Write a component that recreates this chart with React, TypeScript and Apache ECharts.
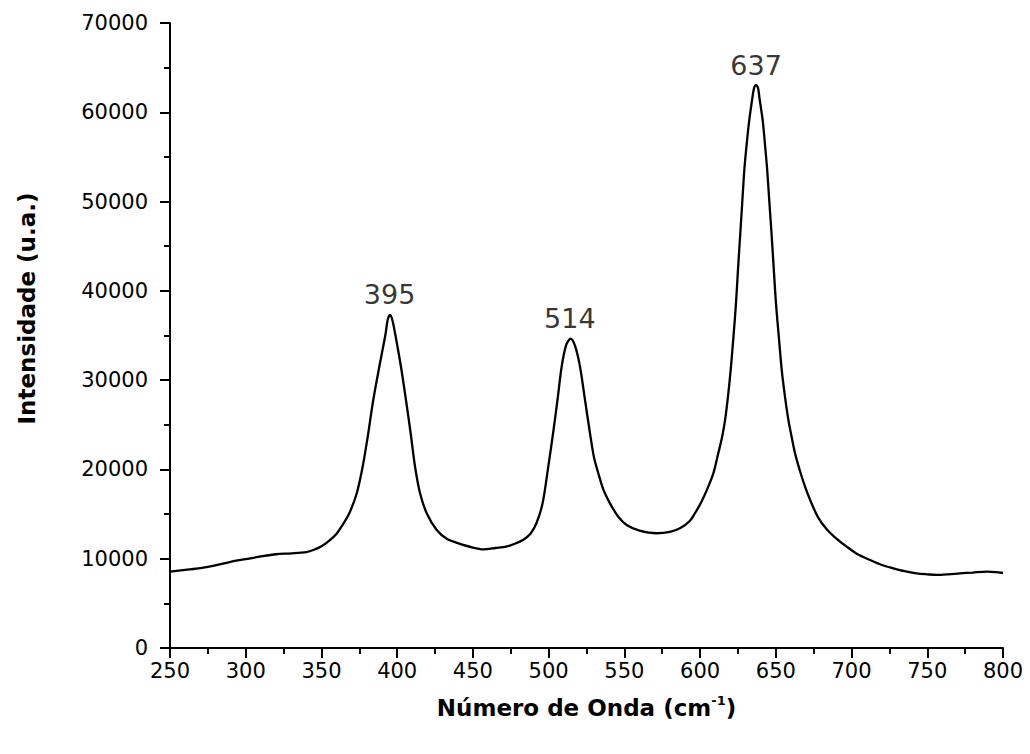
import React, { useEffect, useRef } from "react";
import * as echarts from "echarts";

const wavenumbers = [
  250, 260, 270, 280, 290, 300, 310, 320, 330, 340, 345, 350, 355, 360, 364, 368.4, 373.3, 377.2, 380.9, 384.2,
  388.2, 392.4, 393.7, 395.3, 396.8, 398.6, 402.5, 405.8, 408.9, 411.8, 415.1, 419.5, 426.1, 433, 440, 450, 457,
  465, 472, 478, 483, 488, 492, 496, 499.5, 503.3, 506, 508.6, 511.5, 514.5, 517.5, 520.7, 524, 527.3, 530,
  532.8, 536, 540.5, 546, 551.5, 560, 571.4, 580, 586.7, 593, 596.6, 601, 605.4, 609, 612, 614.5, 616.5, 618.5,
  620.2, 622, 623.7, 625, 626.4, 627.8, 629.2, 630.8, 632.5, 634.5, 635.6, 636.9, 638.3, 639.2, 641.3, 642.8,
  644.3, 645.8, 647.3, 648.7, 650.1, 652, 653.9, 656, 658.3, 660.5, 662.7, 666, 669.3, 672.6, 678, 683.6, 690,
  696.8, 704, 712.2, 720, 727.6, 735, 743, 750, 756.2, 764, 771.6, 780, 789.3, 795, 800,
];

const intensities = [
  8550, 8750, 8950, 9250, 9650, 9950, 10250, 10500, 10600, 10750, 11000, 11400, 12000, 12800, 13800, 15090,
  17330, 20300, 24050, 27780, 31500, 35250, 36740, 37300, 36740, 35250, 31500, 27780, 24050, 20300, 17330,
  15090, 13220, 12200, 11750, 11250, 11050, 11200, 11350, 11700, 12100, 12800, 14000, 16200, 20000, 24500,
  28000, 31510, 33900, 34650, 33800, 31510, 27800, 24050, 21300, 19570, 17800, 16200, 14700, 13780, 13150,
  12850, 13000, 13400, 14200, 15090, 16400, 18070, 19700, 21800, 23600, 25540, 28300, 31140, 34800, 38600,
  42300, 46070, 49800, 53540, 56500, 59140, 61600, 62680, 63050, 62680, 61600, 59140, 56500, 53540, 49800,
  46070, 42300, 38600, 34800, 31140, 28200, 25540, 23600, 21800, 19800, 18070, 16600, 14600, 13300, 12250,
  11350, 10500, 9860, 9300, 8920, 8600, 8360, 8250, 8180, 8250, 8360, 8450, 8550, 8500, 8400,
];

const peakPositions = [395, 514, 637];
const peakHeights = [37300, 34650, 63050];

const xTitle = "Número de Onda (cm";
const xTitleSup = "-1";
const yTitle = "Intensidade (u.a.)";

const FONT = "'DejaVu Sans', 'Liberation Sans', Arial, sans-serif";

export default function App() {
  const ref = useRef<HTMLDivElement>(null);

  useEffect(() => {
    if (!ref.current) return;
    const chart = echarts.init(ref.current, null, { renderer: "svg" });
    const spectrum = wavenumbers.map((x, i) => [x, intensities[i]]);
    const peaks = peakPositions.map((x, i) => [x, peakHeights[i]]);

    const axisCommon = {
      axisLine: { show: true, onZero: false, lineStyle: { color: "#000", width: 2 } },
      axisTick: { show: true, inside: false, length: 10, lineStyle: { color: "#000", width: 2 } },
      minorTick: { show: true, splitNumber: 2, length: 6, lineStyle: { color: "#000", width: 2 } },
      splitLine: { show: false },
      minorSplitLine: { show: false },
    };

    chart.setOption({
      animation: false,
      backgroundColor: "#fff",
      grid: { left: 170, right: 27, top: 23, bottom: 106 },
      xAxis: {
        type: "value",
        min: 250,
        max: 800,
        interval: 50,
        ...axisCommon,
        axisLabel: {
          color: "#000",
          fontSize: 21,
          fontFamily: FONT,
          margin: 12,
          formatter: (v: number) => String(v),
        },
        name: `{t|${xTitle}}{s|${xTitleSup}}{t|)}`,
        nameLocation: "middle",
        nameGap: 46,
        nameTextStyle: {
          rich: {
            t: { fontSize: 23, fontWeight: "bold", fontFamily: FONT, color: "#000", lineHeight: 28 },
            s: { fontSize: 13, fontWeight: "bold", fontFamily: FONT, color: "#000", lineHeight: 13, verticalAlign: "top" },
          },
        },
      },
      yAxis: {
        type: "value",
        min: 0,
        max: 70000,
        interval: 10000,
        ...axisCommon,
        axisLabel: {
          color: "#000",
          fontSize: 21,
          fontFamily: FONT,
          margin: 22,
          formatter: (v: number) => String(v),
        },
        name: yTitle,
        nameLocation: "middle",
        nameGap: 132,
        nameTextStyle: {
          fontSize: 23,
          fontWeight: "bold",
          fontFamily: FONT,
          color: "#000",
          padding: [0, 0, 0, 54],
        },
      },
      series: [
        {
          type: "line",
          data: spectrum,
          showSymbol: false,
          smooth: 0.3,
          lineStyle: { color: "#000", width: 2.3 },
          z: 3,
        },
        {
          type: "scatter",
          data: peaks,
          symbolSize: 0,
          itemStyle: { color: "transparent" },
          label: {
            show: true,
            position: "top",
            distance: 6,
            formatter: (p: any) => String(p.value[0]),
            fontSize: 27,
            lineHeight: 28,
            fontFamily: FONT,
            color: "#000",
          },
          z: 4,
        },
      ],
    });

    return () => chart.dispose();
  }, []);

  return (
    <div
      ref={ref}
      style={{ position: "fixed", left: 0, top: 0, width: 1030, height: 754, background: "#fff" }}
    />
  );
}
